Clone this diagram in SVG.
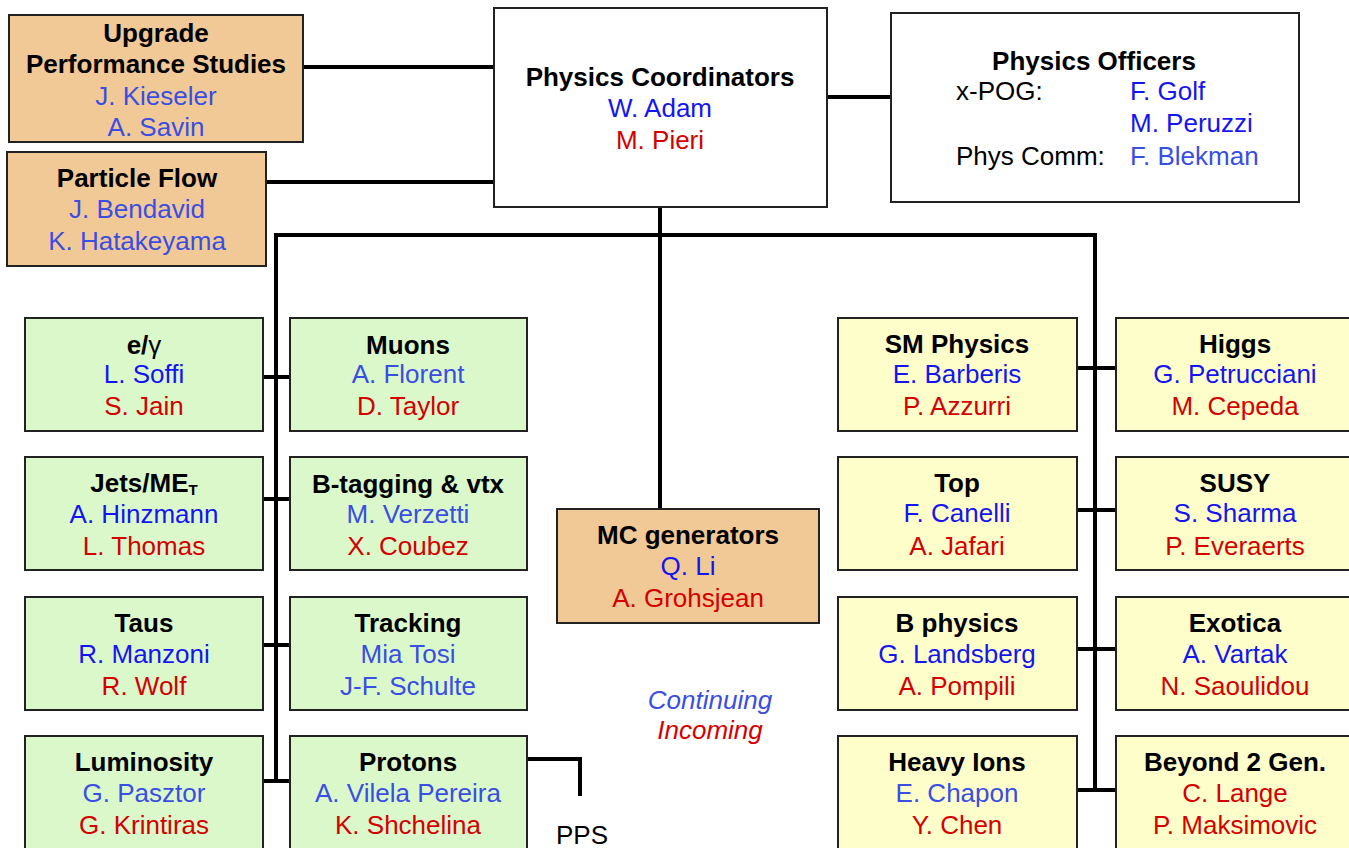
<svg xmlns="http://www.w3.org/2000/svg" width="1349" height="848" viewBox="0 0 1349 848">
<style>
text{font-family:"Liberation Sans",Arial,sans-serif;font-size:26px;text-anchor:middle}
.t{font-weight:bold;fill:#000}
.b{fill:#1515f2}
.lb{fill:#3a4ee2}
.r{fill:#d40000}
.k{fill:#000}
.st{text-anchor:start}
.box{stroke:#222;stroke-width:2}
.peach{fill:#f1c996}
.white{fill:#fff}
.green{fill:#dbf8cb}
.yellow{fill:#fefecb}
.con line,.con polyline{stroke:#000;stroke-width:4;fill:none}
</style>
<rect width="1349" height="848" fill="#fff"/>
<g class="con">
<line x1="303" y1="67" x2="494" y2="67"/>
<line x1="266" y1="182" x2="494" y2="182"/>
<line x1="827" y1="97" x2="891" y2="97"/>
<line x1="660" y1="207" x2="660" y2="509"/>
<line x1="276" y1="235" x2="1095" y2="235"/>
<line x1="276" y1="233" x2="276" y2="783"/>
<line x1="1095" y1="233" x2="1095" y2="792"/>
<line x1="263" y1="377" x2="290" y2="377"/>
<line x1="263" y1="499" x2="290" y2="499"/>
<line x1="263" y1="645" x2="290" y2="645"/>
<line x1="263" y1="781" x2="290" y2="781"/>
<polyline points="527,759 580,759 580,796"/>
<line x1="1077" y1="368" x2="1116" y2="368"/>
<line x1="1077" y1="510" x2="1116" y2="510"/>
<line x1="1077" y1="649" x2="1116" y2="649"/>
<line x1="1077" y1="790" x2="1116" y2="790"/>
</g>
<g id="upgrade">
<rect class="box peach" x="9" y="15" width="294" height="127"/>
<text class="t" x="156" y="42">Upgrade</text>
<text class="t" x="156" y="73">Performance Studies</text>
<text class="lb" x="156" y="105">J. Kieseler</text>
<text class="lb" x="156" y="136">A. Savin</text>
</g>
<g id="pflow">
<rect class="box peach" x="7" y="152" width="259" height="114"/>
<text class="t" x="137" y="187">Particle Flow</text>
<text class="lb" x="137" y="218">J. Bendavid</text>
<text class="lb" x="137" y="250">K. Hatakeyama</text>
</g>
<g id="coord">
<rect class="box white" x="494" y="8" width="333" height="199"/>
<text class="t" x="660" y="86">Physics Coordinators</text>
<text class="b" x="660" y="117">W. Adam</text>
<text class="r" x="660" y="149">M. Pieri</text>
</g>
<g id="officers">
<rect class="box white" x="891" y="13" width="408" height="189"/>
<text class="t" x="1094" y="70">Physics Officers</text>
<text class="k st" x="956" y="100">x-POG:</text>
<text class="b st" x="1130" y="100">F. Golf</text>
<text class="b st" x="1130" y="132">M. Peruzzi</text>
<text class="k st" x="956" y="165">Phys Comm:</text>
<text class="lb st" x="1130" y="165">F. Blekman</text>
</g>
<g id="egamma">
<rect class="box green" x="25" y="318" width="238" height="113"/>
<text class="t" x="144" y="354">e/<tspan font-weight="normal">γ</tspan></text>
<text class="b" x="144" y="383">L. Soffi</text>
<text class="r" x="144" y="415">S. Jain</text>
</g>
<g id="muons">
<rect class="box green" x="290" y="318" width="237" height="113"/>
<text class="t" x="408" y="354">Muons</text>
<text class="lb" x="408" y="383">A. Florent</text>
<text class="r" x="408" y="415">D. Taylor</text>
</g>
<g id="jets">
<rect class="box green" x="25" y="457" width="238" height="113"/>
<text class="t" x="144" y="492">Jets/ME<tspan font-size="15" dy="3">T</tspan></text>
<text class="b" x="144" y="523">A. Hinzmann</text>
<text class="r" x="144" y="555">L. Thomas</text>
</g>
<g id="btag">
<rect class="box green" x="290" y="457" width="237" height="113"/>
<text class="t" x="408" y="493">B-tagging &amp; vtx</text>
<text class="lb" x="408" y="523">M. Verzetti</text>
<text class="r" x="408" y="555">X. Coubez</text>
</g>
<g id="taus">
<rect class="box green" x="25" y="597" width="238" height="113"/>
<text class="t" x="144" y="632">Taus</text>
<text class="b" x="144" y="663">R. Manzoni</text>
<text class="r" x="144" y="695">R. Wolf</text>
</g>
<g id="tracking">
<rect class="box green" x="290" y="597" width="237" height="113"/>
<text class="t" x="408" y="632">Tracking</text>
<text class="lb" x="408" y="663">Mia Tosi</text>
<text class="lb" x="408" y="695">J-F. Schulte</text>
</g>
<g id="lumi">
<rect class="box green" x="25" y="736" width="238" height="120"/>
<text class="t" x="144" y="771">Luminosity</text>
<text class="lb" x="144" y="802">G. Pasztor</text>
<text class="r" x="144" y="834">G. Krintiras</text>
</g>
<g id="protons">
<rect class="box green" x="290" y="736" width="237" height="120"/>
<text class="t" x="408" y="771">Protons</text>
<text class="lb" x="408" y="802">A. Vilela Pereira</text>
<text class="r" x="408" y="834">K. Shchelina</text>
</g>
<g id="pps">
<text class="k" x="582" y="844" font-size="25">PPS</text>
</g>
<g id="mcgen">
<rect class="box peach" x="557" y="509" width="262" height="114"/>
<text class="t" x="688" y="544">MC generators</text>
<text class="b" x="688" y="575">Q. Li</text>
<text class="r" x="688" y="607">A. Grohsjean</text>
</g>
<g id="legend">
<text class="lb" x="710" y="709" font-style="italic">Continuing</text>
<text class="r" x="710" y="739" font-style="italic">Incoming</text>
</g>
<g id="sm">
<rect class="box yellow" x="838" y="318" width="239" height="113"/>
<text class="t" x="957" y="353">SM Physics</text>
<text class="b" x="957" y="383">E. Barberis</text>
<text class="r" x="957" y="415">P. Azzurri</text>
</g>
<g id="higgs">
<rect class="box yellow" x="1116" y="318" width="240" height="113"/>
<text class="t" x="1235" y="353">Higgs</text>
<text class="b" x="1235" y="383">G. Petrucciani</text>
<text class="r" x="1235" y="415">M. Cepeda</text>
</g>
<g id="top">
<rect class="box yellow" x="838" y="457" width="239" height="113"/>
<text class="t" x="957" y="492">Top</text>
<text class="b" x="957" y="522">F. Canelli</text>
<text class="r" x="957" y="555">A. Jafari</text>
</g>
<g id="susy">
<rect class="box yellow" x="1116" y="457" width="240" height="113"/>
<text class="t" x="1235" y="492">SUSY</text>
<text class="b" x="1235" y="522">S. Sharma</text>
<text class="r" x="1235" y="555">P. Everaerts</text>
</g>
<g id="bphys">
<rect class="box yellow" x="838" y="597" width="239" height="113"/>
<text class="t" x="957" y="632">B physics</text>
<text class="b" x="957" y="663">G. Landsberg</text>
<text class="r" x="957" y="695">A. Pompili</text>
</g>
<g id="exotica">
<rect class="box yellow" x="1116" y="597" width="240" height="113"/>
<text class="t" x="1235" y="632">Exotica</text>
<text class="b" x="1235" y="663">A. Vartak</text>
<text class="r" x="1235" y="695">N. Saoulidou</text>
</g>
<g id="hi">
<rect class="box yellow" x="838" y="736" width="239" height="120"/>
<text class="t" x="957" y="771">Heavy Ions</text>
<text class="lb" x="957" y="802">E. Chapon</text>
<text class="r" x="957" y="834">Y. Chen</text>
</g>
<g id="b2g">
<rect class="box yellow" x="1116" y="736" width="240" height="120"/>
<text class="t" x="1235" y="771">Beyond 2 Gen.</text>
<text class="r" x="1235" y="802">C. Lange</text>
<text class="r" x="1235" y="834">P. Maksimovic</text>
</g>
</svg>
